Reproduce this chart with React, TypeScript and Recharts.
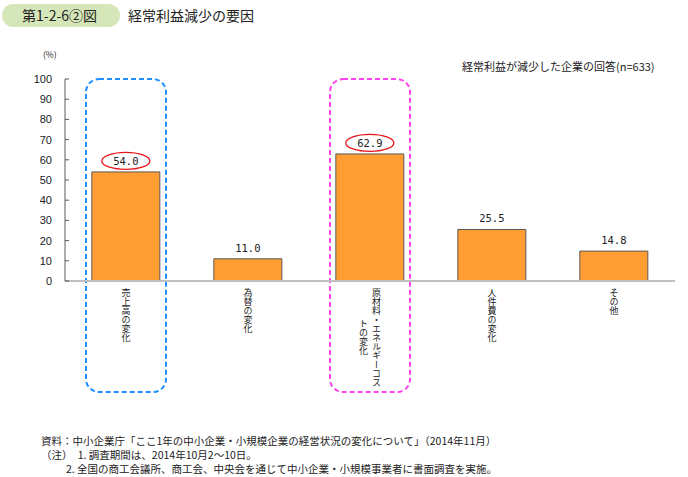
import React from 'react'
import { BarChart, Bar, XAxis, YAxis, LabelList, ReferenceArea } from 'recharts'

const categories = ['売上高の変化', '為替の変化', '原材料・エネルギーコストの変化', '人件費の変化', 'その他']
const shares = [54.0, 11.0, 62.9, 25.5, 14.8]
const yTicks = [0, 10, 20, 30, 40, 50, 60, 70, 80, 90, 100]
const circled = ['売上高の変化', '原材料・エネルギーコストの変化']
const boxed = ['売上高の変化', '原材料・エネルギーコストの変化']
const boxColors = ['#1E90FF', '#FF44EE']

const footnotes = [
    '資料：中小企業庁「ここ1年の中小企業・小規模企業の経営状況の変化について」（2014年11月）',
    '（注）　1. 調査期間は、2014年10月2～10日。',
    '2. 全国の商工会議所、商工会、中央会を通じて中小企業・小規模事業者に書面調査を実施。',
]

const data = categories.map((name, i) => ({ name, value: shares[i] }))

const jp = '"Noto Sans CJK JP", "Noto Sans", sans-serif'

// vertical category text, wrapped into columns of 11 chars (right to left)
function CategoryTick(props: any) {
    const { x, y, payload } = props
    const text: string = payload.value
    const perCol = 11
    const step = 9
    const colGap = 13
    const cols: string[] = []
    for (let i = 0; i < text.length; i += perCol) cols.push(text.slice(i, i + perCol))
    const maxLen = Math.max(...cols.map((c) => c.length))
    return (
        <g>
            {cols.map((col, ci) => {
                const cx = x + ((cols.length - 1) / 2 - ci) * colGap
                const shift = ((maxLen - col.length) * step) / 2
                return (
                    <text
                        key={ci}
                        x={cx}
                        y={y - 1 + shift}
                        fontSize={9}
                        fontFamily={jp}
                        fill="#222"
                        style={{ writingMode: 'vertical-rl' }}
                    >
                        {col}
                    </text>
                )
            })}
        </g>
    )
}

function ValueTick(props: any) {
    const { x, y, payload } = props
    return (
        <g>
            <line x1={x + 13} x2={x + 17} y1={y} y2={y} stroke="#595959" />
            <text x={x} y={y} textAnchor="end" dominantBaseline="central" fontSize={11} fontFamily="'Liberation Sans', Arial, sans-serif" fill="#222">
                {payload.value}
            </text>
        </g>
    )
}

function ValueLabel(props: any) {
    const { x, y, width, value, index } = props
    const cx = x + width / 2
    const cy = y - 11
    const ring = circled.includes(categories[index])
    return (
        <g>
            {ring && <ellipse cx={cx} cy={cy} rx={24} ry={8.5} fill="none" stroke="#E8141B" strokeWidth={1.3} />}
            <text x={cx} y={cy} textAnchor="middle" dominantBaseline="central" fontSize={10.5} fontFamily="'DejaVu Sans Mono', monospace" fill="#222">
                {Number(value).toFixed(1)}
            </text>
        </g>
    )
}

function DashedBox(props: any) {
    const { x, y, width, height, color } = props
    return (
        <rect
            x={x + 21}
            y={y}
            width={width - 42}
            height={height}
            rx={13}
            fill="none"
            stroke={color}
            strokeWidth={2}
            strokeDasharray="5 3"
        />
    )
}

export default function App() {
    return (
        <div style={{ position: 'absolute', left: 0, top: 0, width: 688, height: 477, background: '#fff', fontFamily: jp }}>
            <div
                style={{
                    position: 'absolute', left: 2, top: 4, width: 118, height: 23, borderRadius: 12,
                    background: '#D5E6B9', fontSize: 14, lineHeight: '23px', color: '#222', paddingLeft: 20, boxSizing: 'border-box',
                }}
            >
                第1-2-6②図
            </div>
            <div style={{ position: 'absolute', left: 128, top: 4, fontSize: 14, lineHeight: '23px', color: '#222' }}>
                経常利益減少の要因
            </div>
            <div style={{ position: 'absolute', left: 43, top: 48, fontSize: 8.5, color: '#222' }}>(%)</div>
            <div style={{ position: 'absolute', left: 462, top: 58, fontSize: 11, color: '#222' }}>
                経常利益が減少した企業の回答(n=633)
            </div>
            <BarChart
                width={688}
                height={477}
                data={data}
                margin={{ top: 79, right: 13, bottom: 166, left: 0 }}
                barCategoryGap="22%"
            >
                <XAxis
                    dataKey="name"
                    height={30}
                    interval={0}
                    tickLine={false}
                    tick={<CategoryTick />}
                    axisLine={{ stroke: '#BFBFBF', strokeWidth: 2 }}
                />
                <YAxis
                    width={65}
                    domain={[0, 100]}
                    ticks={yTicks}
                    interval={0}
                    tickLine={false}
                    tickSize={0}
                    tickMargin={13}
                    tick={<ValueTick />}
                    axisLine={{ stroke: '#595959' }}
                />
                {boxed.map((name, i) => (
                    <ReferenceArea
                        key={name}
                        x1={name}
                        x2={name}
                        y1={-55}
                        y2={100}
                        ifOverflow="visible"
                        shape={(p: any) => <DashedBox {...p} color={boxColors[i]} />}
                    />
                ))}
                <Bar dataKey="value" fill="#FF9D33" stroke="#595959" strokeWidth={1} isAnimationActive={false}>
                    <LabelList dataKey="value" content={<ValueLabel />} />
                </Bar>
            </BarChart>
            <div style={{ position: 'absolute', left: 41, top: 434, fontSize: 10.5, lineHeight: '14px', color: '#222' }}>
                <div>{footnotes[0]}</div>
                <div>{footnotes[1]}</div>
                <div style={{ paddingLeft: 25 }}>{footnotes[2]}</div>
            </div>
        </div>
    )
}
